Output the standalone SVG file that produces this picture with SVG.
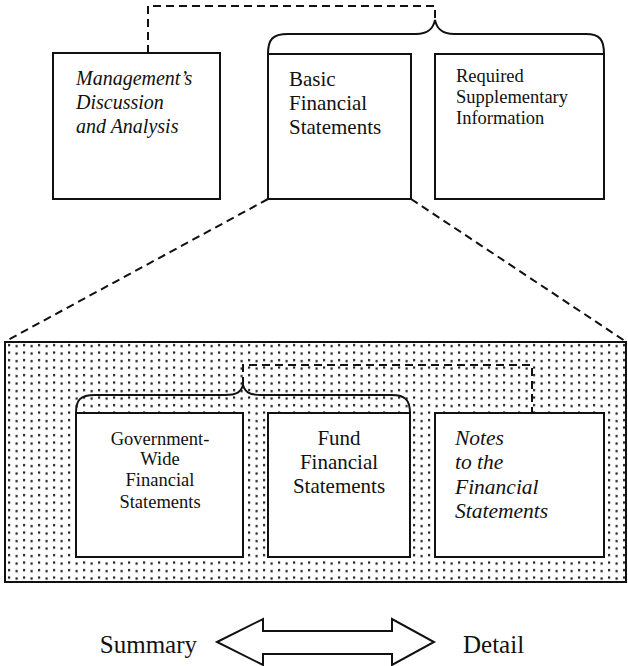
<svg xmlns="http://www.w3.org/2000/svg" width="628" height="666" viewBox="0 0 628 666">
<style>
.box{fill:#fff;stroke:#111;stroke-width:2}
.dash{fill:none;stroke:#111;stroke-width:2;stroke-dasharray:8 5}
.brace{fill:none;stroke:#111;stroke-width:2}
.t{font-family:'Liberation Serif','DejaVu Serif',serif;fill:#111}
.it{font-style:italic}
</style>
<defs>
<pattern id="dots" x="5" y="342" width="15" height="7.5" patternUnits="userSpaceOnUse">
<rect x="3" y="2" width="2.2" height="2.2" fill="#1a1a1a"/>
<rect x="10.5" y="3" width="2.2" height="2.2" fill="#1a1a1a"/>
</pattern>
</defs>
<rect width="628" height="666" fill="#fff"/>
<g id="detail-panel">
<rect x="5" y="342" width="621" height="240" fill="url(#dots)" stroke="#111" stroke-width="2"/>
</g>
<g id="connectors">
<path class="dash" d="M148,53 V6 H435 V20"/>
<path class="brace" d="M268,54 C268,40 272,34 288,34 L416,34 C428,34 433,29 435,20 C437,29 442,34 454,34 L586,34 C600,34 604,40 604,54"/>
<path class="dash" d="M268,199 L6,341"/>
<path class="dash" d="M411,199 L625,341"/>
<path class="dash" d="M243,385 V365 H532 V413"/>
<path class="brace" d="M76,413 C76,400 80,395 95,395 L225,395 C237,395 241,392 243,385 C245,392 249,395 261,395 L392,395 C405,395 410,400 410,413"/>
</g>
<g id="mdna" class="t it" font-size="20">
<rect class="box" x="53" y="53" width="167" height="146"/>
<text x="76" y="85">Management’s</text>
<text x="76" y="109">Discussion</text>
<text x="76" y="133">and Analysis</text>
</g>
<g id="basic" class="t" font-size="21">
<rect class="box" x="268" y="54" width="143" height="145"/>
<text x="289" y="86">Basic</text>
<text x="289" y="110">Financial</text>
<text x="289" y="134">Statements</text>
</g>
<g id="rsi" class="t" font-size="18.5">
<rect class="box" x="435" y="54" width="169" height="145"/>
<text x="456" y="82">Required</text>
<text x="456" y="103">Supplementary</text>
<text x="456" y="124">Information</text>
</g>
<g id="govwide" class="t" font-size="18.5">
<rect class="box" x="76" y="413" width="167" height="144"/>
<text x="160" y="445" text-anchor="middle">Government-</text>
<text x="160" y="465" text-anchor="middle">Wide</text>
<text x="160" y="486" text-anchor="middle">Financial</text>
<text x="160" y="508" text-anchor="middle">Statements</text>
</g>
<g id="fund" class="t" font-size="21">
<rect class="box" x="268" y="413" width="142" height="144"/>
<text x="339" y="445" text-anchor="middle">Fund</text>
<text x="339" y="469" text-anchor="middle">Financial</text>
<text x="339" y="493" text-anchor="middle">Statements</text>
</g>
<g id="notes" class="t it" font-size="21.5">
<rect class="box" x="435" y="413" width="169" height="144"/>
<text x="455" y="445">Notes</text>
<text x="455" y="469">to the</text>
<text x="455" y="494">Financial</text>
<text x="455" y="518">Statements</text>
</g>
<g id="scale" class="t" font-size="25">
<polygon points="217,642 263,619 263,631 392,631 392,619 434,642 392,665 392,654 263,654 263,665" fill="#fff" stroke="#111" stroke-width="2"/>
<text x="197" y="653" text-anchor="end">Summary</text>
<text x="463" y="653">Detail</text>
</g>
</svg>
